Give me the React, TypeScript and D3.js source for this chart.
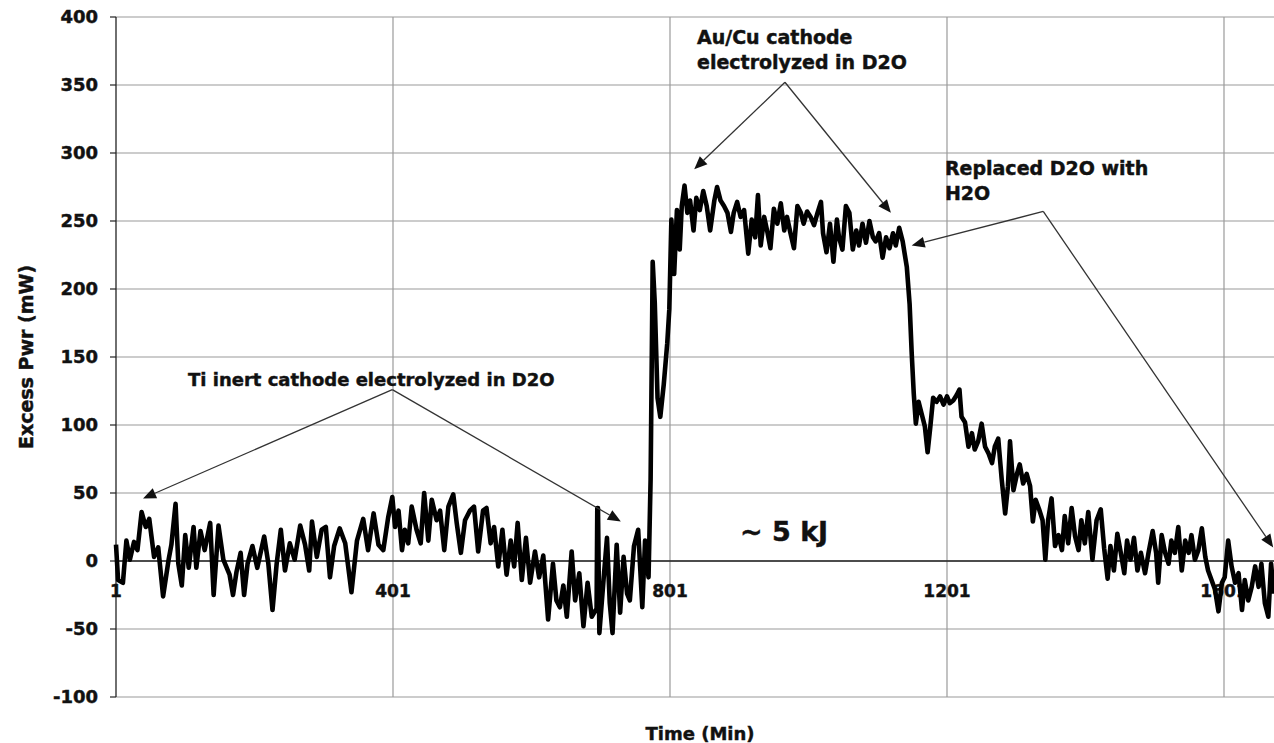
import React from 'react';
import * as d3 from 'd3';

// [minute, excess power mW]
const tiPhase: [number, number][] = [
  [1, 12], [4, -14], [11, -16], [16, 15], [21, 1], [27, 14], [32, 8], [38, 36], [44, 25], [49, 31],
  [56, 3], [62, 10], [69, -26], [77, 1], [81, 12], [87, 42], [91, -2], [96, -18], [101, 19], [106, -5],
  [113, 25], [117, -5], [123, 22], [129, 8], [137, 28], [142, -25], [149, 26], [156, 1], [165, -10], [170, -25],
  [175, -8], [181, 6], [186, -25], [191, -2], [198, 11], [205, -5], [215, 18], [221, -2], [227, -36], [233, -2],
  [239, 23], [245, -7], [252, 13], [259, 1], [267, 26], [274, 12], [280, -7], [284, 29], [291, 3], [298, 23],
  [304, 25], [310, -12], [316, 11], [324, 24], [332, 13], [341, -23], [349, 15], [358, 31], [365, 8], [373, 35],
  [380, 12], [387, 8], [394, 32], [400, 47], [404, 25], [409, 37], [414, 8], [418, 23], [423, 13], [428, 40],
  [435, 23], [441, 13], [446, 50], [452, 15], [457, 45], [464, 30], [469, 37], [475, 8], [481, 40], [488, 49],
  [493, 28], [499, 6], [505, 30], [512, 37], [518, 40], [524, 7], [531, 37], [536, 39], [542, 13], [547, 25],
  [553, -4], [559, 23], [565, -10], [571, 15], [576, -4], [581, 28], [587, -14], [593, 17], [599, -16], [606, 7],
  [612, -12], [618, 4], [625, -43], [632, -2], [637, -29], [642, -34], [647, -18], [652, -41], [659, 7], [664, -29],
  [670, -9], [676, -48], [682, -16], [688, -41], [695, -35], [696, 39], [697, 39], [699, -53], [705, -14], [710, 17],
  [714, -31], [718, -53], [724, 12], [729, -38], [734, 3], [739, -24], [743, -29], [749, 11], [755, 23], [761, -34],
  [765, 15], [770, -12],
];

const auCuPhase: [number, number][] = [
  [773, 60], [776, 220], [779, 190], [783, 120], [787, 106], [792, 130], [797, 160], [800, 185], [803, 251], [807, 211],
  [811, 258], [815, 229], [818, 261], [822, 276], [826, 256], [830, 265], [835, 243], [839, 267], [844, 258], [849, 272],
  [854, 261], [859, 243], [865, 265], [869, 275], [874, 265], [879, 261], [884, 256], [889, 242], [893, 256], [898, 264],
  [903, 253], [908, 258], [914, 226], [919, 251], [924, 238], [928, 269], [932, 232], [937, 253], [942, 241], [946, 230],
  [951, 259], [956, 248], [961, 263], [966, 243], [970, 253], [975, 241], [980, 230], [985, 261], [990, 256], [994, 248],
  [999, 257], [1004, 253], [1009, 247], [1014, 256], [1019, 264], [1022, 241], [1027, 227], [1032, 248], [1037, 220], [1042, 251],
  [1045, 238], [1050, 229], [1055, 261], [1060, 256], [1065, 229], [1070, 243], [1074, 232], [1079, 248], [1084, 234], [1089, 250],
  [1094, 238], [1098, 235], [1103, 241], [1108, 223], [1113, 238], [1118, 230], [1123, 241], [1127, 232], [1132, 245], [1137, 235],
];

const h2oPhase: [number, number][] = [
  [1143, 216], [1147, 189], [1150, 153], [1153, 123], [1156, 101], [1160, 117], [1164, 109], [1169, 99], [1173, 80], [1177, 99],
  [1181, 120], [1186, 117], [1191, 121], [1196, 115], [1201, 121], [1205, 116], [1210, 118], [1215, 122], [1219, 126], [1222, 106],
  [1227, 102], [1232, 84], [1237, 94], [1241, 82], [1246, 88], [1251, 101], [1256, 84], [1261, 79], [1266, 72], [1270, 84],
  [1275, 90], [1280, 60], [1285, 35], [1289, 55], [1292, 88], [1297, 52], [1302, 64], [1306, 71], [1311, 57], [1316, 64],
  [1321, 55], [1325, 29], [1329, 45], [1334, 38], [1339, 30], [1343, 1], [1347, 30], [1352, 46], [1357, 11], [1362, 19],
  [1367, 8], [1371, 33], [1376, 13], [1381, 39], [1386, 18], [1391, 8], [1395, 30], [1400, 13], [1405, 36], [1411, 1],
  [1417, 30], [1423, 38], [1428, 9], [1433, -13], [1437, 11], [1442, -7], [1447, 20], [1452, 6], [1457, -9], [1461, 15],
  [1466, 1], [1471, 17], [1476, -7], [1481, 6], [1487, -9], [1492, 6], [1498, 22], [1503, 6], [1506, -16], [1511, 19],
  [1516, 6], [1521, -2], [1525, 15], [1530, 6], [1535, 25], [1540, -7], [1545, 15], [1550, 6], [1554, 19], [1559, 1],
  [1564, 8], [1569, 24], [1574, 3], [1578, -7], [1583, -14], [1588, -21], [1593, -37], [1598, -16], [1602, -12], [1607, 15],
  [1612, -4], [1617, -16], [1622, -9], [1627, -36], [1631, -14], [1636, -29], [1641, -19], [1646, -4], [1651, -19], [1655, -2],
  [1660, -31], [1665, -41], [1669, -2], [1673, -24],
];

const yTicks = [-100, -50, 0, 50, 100, 150, 200, 250, 300, 350, 400];
const xTicks = [1, 401, 801, 1201, 1601];

// annotations in data units: text lines, text anchor, arrow origin and arrow tips
const notes = [
  { lines: ['Ti inert cathode electrolyzed in D2O'], at: [105, 129], size: 18, from: [400, 126], to: [[40, 46], [730, 29]] },
  { lines: ['Au/Cu cathode', 'electrolyzed in D2O'], at: [840, 380], size: 19, from: [967, 352], to: [[836, 288], [1120, 256]] },
  { lines: ['Replaced D2O with', 'H2O'], at: [1198, 284], size: 19, from: [1340, 257], to: [[1150, 232], [1672, 10]] },
];

const W = 1274;
const H = 743;
const FONT = '"DejaVu Sans", Verdana, sans-serif';
const INK = '#111';

const x = d3.scaleLinear().domain([1, 1601]).range([116, 1224]);
const y = d3.scaleLinear().domain([-100, 400]).range([697, 17]);

function Arrow({ from, to }: { from: number[]; to: number[] }) {
  const x1 = x(from[0]), y1 = y(from[1]);
  const x2 = x(to[0]), y2 = y(to[1]);
  const ang = Math.atan2(y2 - y1, x2 - x1);
  const len = 13, half = 5.5;
  const bx = x2 - len * Math.cos(ang), by = y2 - len * Math.sin(ang);
  const px = -Math.sin(ang) * half, py = Math.cos(ang) * half;
  return (
    <g>
      <line x1={x1} y1={y1} x2={bx} y2={by} stroke="#333" strokeWidth={1.3} />
      <polygon points={`${x2},${y2} ${bx + px},${by + py} ${bx - px},${by - py}`} fill={INK} />
    </g>
  );
}

export default function App() {
  const pts = [...tiPhase, ...auCuPhase, ...h2oPhase];
  const line = d3.line<[number, number]>().x(d => x(d[0])).y(d => y(d[1]));
  // slight outline makes DejaVu Bold look closer to the heavier Verdana Bold
  const bold = { fill: INK, stroke: INK, strokeWidth: 0.45 };

  return (
    <svg width={W} height={H} style={{ position: 'absolute', left: 0, top: 0, background: '#fff' }}
      fontFamily={FONT} fontWeight="bold">
      <rect width={W} height={H} fill="#fff" />
      {yTicks.map(t => (
        <line key={'h' + t} x1={116} x2={W} y1={y(t)} y2={y(t)} stroke="#9a9a9a" strokeWidth={1.2} />
      ))}
      {xTicks.slice(1).map(t => (
        <line key={'v' + t} x1={x(t)} x2={x(t)} y1={y(400)} y2={y(-100)} stroke="#9a9a9a" strokeWidth={1.2} />
      ))}
      <line x1={116} x2={116} y1={y(400)} y2={y(-100)} stroke="#222" strokeWidth={1.3} />
      <line x1={116} x2={W} y1={y(0)} y2={y(0)} stroke="#222" strokeWidth={1.5} />
      {yTicks.map(t => (
        <g key={'yt' + t}>
          <line x1={110} x2={116} y1={y(t)} y2={y(t)} stroke="#222" strokeWidth={1.2} />
          <text x={98} y={y(t)} dy="0.36em" textAnchor="end" fontSize={18} {...bold}>{t}</text>
        </g>
      ))}
      {xTicks.map(t => (
        <text key={'xt' + t} x={x(t)} y={y(0) + 36} textAnchor="middle" fontSize={17} {...bold}>{t}</text>
      ))}
      <path d={line(pts) || ''} fill="none" stroke="#000" strokeWidth={4.6} strokeLinejoin="round" />
      {notes.map((n, i) => (
        <g key={'n' + i}>
          {n.lines.map((s, j) => (
            <text key={j} x={x(n.at[0])} y={y(n.at[1]) + j * 25} fontSize={n.size} {...bold}>{s}</text>
          ))}
          {n.to.map((tp, k) => <Arrow key={k} from={n.from} to={tp} />)}
        </g>
      ))}
      <text x={x(902)} y={y(15)} fontSize={27} {...bold}>~ 5 kJ</text>
      <text x={700} y={740} textAnchor="middle" fontSize={18} {...bold}>Time (Min)</text>
      <text transform={`translate(26,${y(150)}) rotate(-90)`} textAnchor="middle" dy="0.36em" fontSize={19} {...bold}>Excess Pwr (mW)</text>
    </svg>
  );
}
